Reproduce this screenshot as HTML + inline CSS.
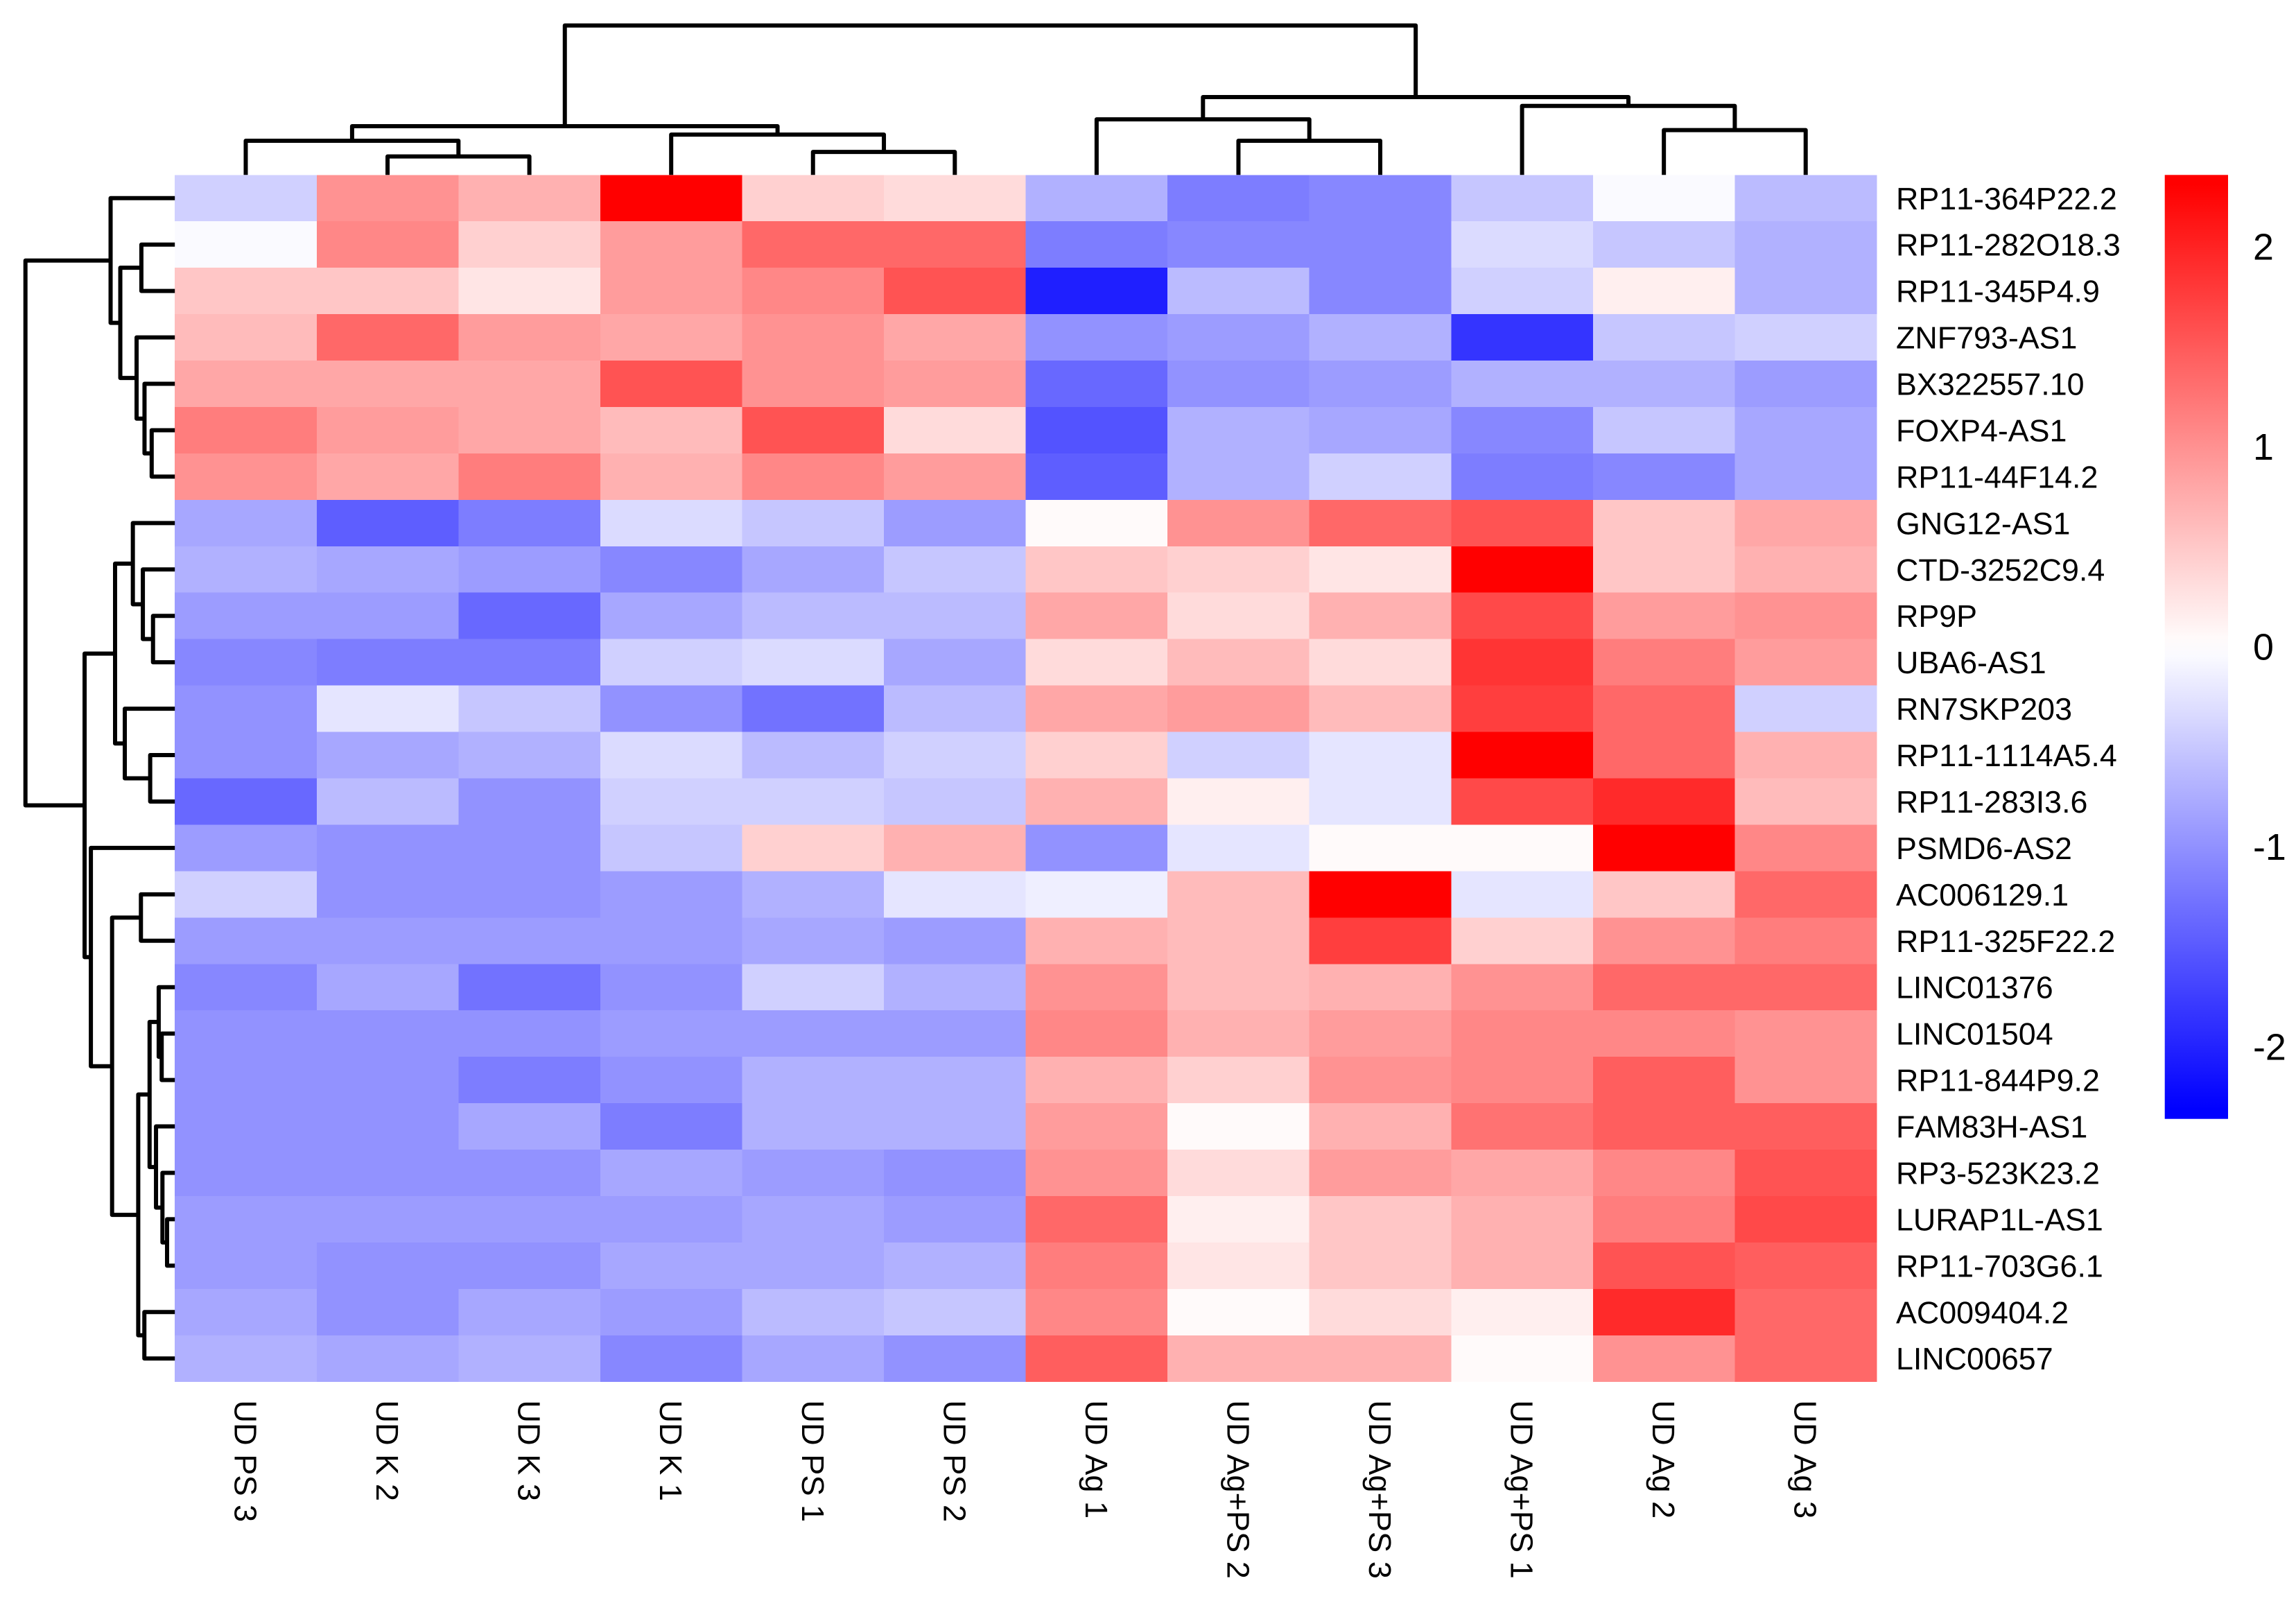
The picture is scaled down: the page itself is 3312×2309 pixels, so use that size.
<!DOCTYPE html>
<html lang="en">
<head>
<meta charset="utf-8">
<title>Clustered heatmap</title>
<style>
html,body{margin:0;padding:0;background:#fff;}
svg{display:block;}
text{font-family:"Liberation Sans",Arial,sans-serif;fill:#000;font-kerning:none;text-rendering:geometricPrecision;}
</style>
</head>
<body>
<svg id="chart" xmlns="http://www.w3.org/2000/svg" width="3312" height="2309" viewBox="0 0 3312 2309"></svg>
<script>
const rowLabels = ["RP11-364P22.2","RP11-282O18.3","RP11-345P4.9","ZNF793-AS1","BX322557.10","FOXP4-AS1","RP11-44F14.2","GNG12-AS1","CTD-3252C9.4","RP9P","UBA6-AS1","RN7SKP203","RP11-1114A5.4","RP11-283I3.6","PSMD6-AS2","AC006129.1","RP11-325F22.2","LINC01376","LINC01504","RP11-844P9.2","FAM83H-AS1","RP3-523K23.2","LURAP1L-AS1","RP11-703G6.1","AC009404.2","LINC00657"];
const colLabels = ["UD PS 3","UD K 2","UD K 3","UD K 1","UD PS 1","UD PS 2","UD Ag 1","UD Ag+PS 2","UD Ag+PS 3","UD Ag+PS 1","UD Ag 2","UD Ag 3"];
const values = [
[-0.42,1.0,0.75,2.36,0.4,0.3,-0.77,-1.25,-1.1,-0.55,-0.02,-0.58],
[-0.08,1.15,0.45,0.9,1.4,1.4,-1.25,-1.15,-1.1,-0.35,-0.5,-0.75],
[0.55,0.55,0.2,0.95,1.1,1.55,-2.05,-0.6,-1.1,-0.4,0.15,-0.75],
[0.65,1.4,0.95,0.8,1.0,0.8,-1.0,-0.9,-0.75,-1.85,-0.55,-0.42],
[0.8,0.8,0.85,1.55,1.0,0.95,-1.4,-1.0,-0.95,-0.7,-0.7,-0.95],
[1.2,0.95,0.85,0.65,1.55,0.35,-1.55,-0.75,-0.85,-1.1,-0.5,-0.8],
[1.05,0.85,1.25,0.75,1.15,0.9,-1.45,-0.75,-0.45,-1.2,-1.1,-0.85],
[-0.85,-1.5,-1.2,-0.35,-0.5,-0.9,0.02,1.05,1.35,1.6,0.5,0.8],
[-0.7,-0.8,-0.95,-1.1,-0.8,-0.55,0.5,0.45,0.25,2.36,0.55,0.75],
[-0.95,-0.95,-1.4,-0.85,-0.6,-0.58,0.85,0.35,0.7,1.7,0.9,1.0],
[-1.1,-1.2,-1.2,-0.45,-0.35,-0.85,0.35,0.65,0.35,1.85,1.2,0.9],
[-1.05,-0.2,-0.55,-1.0,-1.3,-0.65,0.8,0.9,0.65,1.8,1.4,-0.42],
[-1.05,-0.8,-0.75,-0.3,-0.6,-0.4,0.4,-0.45,-0.25,2.36,1.35,0.7],
[-1.35,-0.6,-1.0,-0.4,-0.45,-0.5,0.7,0.1,-0.2,1.7,1.95,0.65],
[-0.95,-1.05,-1.05,-0.55,0.4,0.75,-1.0,-0.25,0.08,0.01,2.36,1.1],
[-0.42,-1.05,-1.05,-0.95,-0.7,-0.25,-0.1,0.6,2.36,-0.2,0.5,1.35],
[-0.9,-0.9,-0.9,-0.9,-0.85,-0.95,0.75,0.65,1.75,0.4,1.0,1.2],
[-1.15,-0.85,-1.3,-1.05,-0.45,-0.7,1.05,0.65,0.75,1.0,1.4,1.35],
[-1.0,-1.05,-1.05,-0.95,-0.95,-0.9,1.15,0.75,0.95,1.15,1.1,1.0],
[-1.0,-1.05,-1.2,-1.05,-0.75,-0.75,0.75,0.4,1.0,1.15,1.45,1.05],
[-1.05,-1.0,-0.85,-1.25,-0.7,-0.75,0.95,0.05,0.7,1.3,1.45,1.45],
[-1.05,-1.0,-1.0,-0.8,-0.9,-1.05,1.05,0.35,0.9,0.8,1.15,1.6],
[-0.9,-0.95,-0.9,-0.9,-0.85,-0.9,1.35,0.1,0.55,0.75,1.2,1.65],
[-0.95,-1.0,-1.0,-0.85,-0.85,-0.75,1.2,0.2,0.5,0.75,1.6,1.5],
[-0.85,-1.0,-0.85,-0.9,-0.65,-0.55,1.1,0.01,0.35,0.15,1.95,1.35],
[-0.7,-0.8,-0.7,-1.15,-0.85,-1.05,1.45,0.75,0.7,0.05,1.05,1.4]
];
// Dendrogram merges, hclust convention: negative = leaf (1-based), positive = earlier merge (1-based)
const rowMerges = [[-6,-7],[-5,1],[-4,2],[-2,-3],[4,3],[-1,5],[-10,-11],[-9,7],[-8,8],[-13,-14],[-12,10],[9,11],[-16,-17],[-25,-26],[-19,-20],[-18,15],[-23,-24],[-22,17],[-21,18],[16,19],[20,14],[13,21],[-15,22],[12,23],[6,24]];
const rowHeights = [1.55,2.03,2.56,2.24,3.65,4.30,1.46,2.14,2.81,1.65,3.35,4.00,2.27,2.04,0.88,1.08,0.52,0.83,1.26,1.69,2.45,4.20,5.62,6.04,10];
const colMerges = [[-2,-3],[-1,1],[-5,-6],[-4,3],[2,4],[-8,-9],[-7,6],[-11,-12],[-10,8],[7,9],[5,10]];
const colHeights = [1.24,2.29,1.54,2.70,3.26,2.29,3.72,3.00,4.62,5.21,10];
const legendTicks = [2,1,0,-1,-2];
const valueMax = 2.36;
const colorSteps = 50;

const NS = "http://www.w3.org/2000/svg";
const svg = document.getElementById("chart");
const plot = {left:252.2, right:2707, top:252.3, bottom:1992.7};
const legendBox = {left:3122.7, right:3214, top:252.3, bottom:1613.7};
const dendroScale = 21.55;
const colWidth = (plot.right - plot.left) / colLabels.length;
const rowHeight = (plot.bottom - plot.top) / rowLabels.length;

function xCol(i){ return plot.left + colWidth * (i + 0.5); }
function yRow(i){ return plot.top + rowHeight * (i + 0.5); }
function xHeight(h){ return plot.left - h * dendroScale; }
function yHeight(h){ return plot.top - h * dendroScale; }
function yLegend(v){ return 933 - v * (legendBox.bottom - legendBox.top) / (2 * valueMax); }

function stepColor(i){
  const t = i / (colorSteps - 1);
  if (t < 0.5) { const c = Math.round(510 * t); return "rgb(" + c + "," + c + ",255)"; }
  const c = Math.round(510 * (1 - t));
  return "rgb(255," + c + "," + c + ")";
}
function valueColor(v){
  let i = Math.round((v + valueMax) / (2 * valueMax) * (colorSteps - 1));
  i = Math.max(0, Math.min(colorSteps - 1, i));
  return stepColor(i);
}
function make(tag, attrs, parent){
  const el = document.createElementNS(NS, tag);
  for (const k in attrs) el.setAttribute(k, attrs[k]);
  parent.appendChild(el);
  return el;
}

// Heatmap cells
const cellGroup = make("g", {"shape-rendering":"crispEdges"}, svg);


values.forEach(function(row, r){
  row.forEach(function(v, c){
    const cell = make("rect", {
      x: plot.left + c * colWidth, y: plot.top + r * rowHeight,
      width: colWidth + 0.5, height: rowHeight + 0.5, fill: valueColor(v)
    }, cellGroup);
    
    
  });
});

// Dendrograms
function drawDendrogram(merges, heights, leafPos, isRow, name){
  const g = make("g", {fill:"none", stroke:"#000", "stroke-width":6, "stroke-linejoin":"round"}, svg);
  
  
  const nodes = [];
  function node(id){
    if (id < 0) return {pos: leafPos(-id - 1), h: 0};
    return nodes[id - 1];
  }
  merges.forEach(function(pair, i){
    const a = node(pair[0]), b = node(pair[1]), h = heights[i];
    let d;
    if (isRow) {
      d = "M" + xHeight(a.h) + " " + a.pos + "L" + xHeight(h) + " " + a.pos + "L" + xHeight(h) + " " + b.pos + "L" + xHeight(b.h) + " " + b.pos;
    } else {
      d = "M" + a.pos + " " + yHeight(a.h) + "L" + a.pos + " " + yHeight(h) + "L" + b.pos + " " + yHeight(h) + "L" + b.pos + " " + yHeight(b.h);
    }
    const p = make("path", {d: d}, g);
    
    
    nodes.push({pos: (a.pos + b.pos) / 2, h: h});
  });
}
drawDendrogram(rowMerges, rowHeights, yRow, true, 'row-dendrogram');
drawDendrogram(colMerges, colHeights, xCol, false, 'column-dendrogram');

// Row labels
rowLabels.forEach(function(label, r){
  const t = make("text", {x: 2735, y: yRow(r) + 16, "font-size": 44.8}, svg);
  t.textContent = label;
  
  
});

// Column labels
colLabels.forEach(function(label, c){
  const x = xCol(c) - 16, y = 2019.4;
  const t = make("text", {x: 0, y: 0, "font-size": 45.2, transform: "translate(" + x + " " + y + ") rotate(90)"}, svg);
  t.textContent = label;
  
  
});

// Legend colour bar: smooth gradient through the palette steps
const defs = make("defs", {}, svg);
const grad = make("linearGradient", {id:"legend-gradient", x1:0, y1:1, x2:0, y2:0}, defs);
for (let i = 0; i < colorSteps; i++) {
  make("stop", {offset: (i + 0.5) / colorSteps, "stop-color": stepColor(i)}, grad);
}
const legendBar = make("rect", {
  x: legendBox.left, y: legendBox.top,
  width: legendBox.right - legendBox.left, height: legendBox.bottom - legendBox.top,
  fill: "url(#legend-gradient)"
}, svg);



legendTicks.forEach(function(v){
  const t = make("text", {x: 3250, y: yLegend(v) + 18.5, "font-size": 53.8}, svg);
  t.textContent = String(v);
  
  
});
</script>
</body>
</html>
